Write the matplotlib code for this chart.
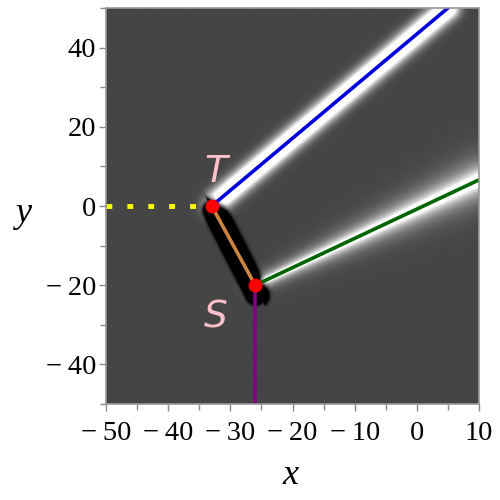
import numpy as np
import matplotlib
matplotlib.use("Agg")
import matplotlib.pyplot as plt
from matplotlib.ticker import FixedLocator, FuncFormatter

# Puntos clave (coordenadas de datos)
point_T = (-33.0, 0.0)
point_S = (-26.0, -20.0)
blue_end = (5.0, 50.0)
green_end = (10.0, 6.6)
purple_end = (-26.0, -50.0)
yellow_start = (-50.0, 0.0)

x_ticks = [-50, -40, -30, -20, -10, 0, 10]
y_ticks = [-40, -20, 0, 20, 40]
x_lim = (-50, 10)
y_lim = (-50, 50)

# Escala aproximada píxel/unidad para medir distancias en pantalla
_SX = 6.22
_SY = 3.925

plt.rcParams["font.family"] = ["Liberation Serif", "DejaVu Serif"]


def _seg_dist(px, py, a, b):
    """Distancia (en px de pantalla) a un segmento y posición a lo largo."""
    ax_, ay_ = a[0] * _SX, a[1] * _SY
    bx_, by_ = b[0] * _SX, b[1] * _SY
    dx, dy = bx_ - ax_, by_ - ay_
    L2 = dx * dx + dy * dy
    t = np.clip(((px - ax_) * dx + (py - ay_) * dy) / L2, 0, 1)
    cx, cy = ax_ + t * dx, ay_ + t * dy
    return np.hypot(px - cx, py - cy), t * np.sqrt(L2)


# ---------------------------------------------------------------- campo
xs = np.linspace(x_lim[0], x_lim[1], 600)
ys = np.linspace(y_lim[0], y_lim[1], 600)
X, Y = np.meshgrid(xs, ys)
PX, PY = X * _SX, Y * _SY

field = np.full_like(X, 0.27)

# halo blanco de la rama azul: meseta ancha
d_b, s_b = _seg_dist(PX, PY, point_T, blue_end)
field += 1.3 * np.exp(-(d_b / 10.5) ** 2) * np.clip(s_b / 4.0, 0.4, 1)

# halo de la rama verde: núcleo fino y cola que se ensancha
d_g, s_g = _seg_dist(PX, PY, point_S, green_end)
w_g = 4.0 + 0.028 * s_g
field += 1.2 * np.exp(-d_g / w_g)

# banda oscura a lo largo del tramo T-S
vx, vy = (point_S[0] - point_T[0]) * _SX, (point_S[1] - point_T[1]) * _SY
n = np.hypot(vx, vy)
nx, ny = -vy / n, vx / n
if nx < 0:
    nx, ny = -nx, -ny  # normal hacia la derecha
off = 0.5
a_off = (point_T[0] + nx * off / _SX, point_T[1] - 1.0 + ny * off / _SY)
b_off = (point_S[0] + nx * off / _SX, point_S[1] - 2.5 + ny * off / _SY)
d_k, s_k = _seg_dist(PX, PY, a_off, b_off)
# lado izquierdo nítido, lado derecho difuso
side = (PX - a_off[0] * _SX) * nx + (PY - a_off[1] * _SY) * ny
w_k = np.where(side > 0, 12.0, 9.0)
field -= 1.3 * np.exp(-(d_k / w_k) ** 4)

field = np.clip(field, 0, 1)

# ---------------------------------------------------------------- figura
fig = plt.figure(figsize=(5, 5), dpi=100)
ax = fig.add_axes([0.212, 0.192, 0.746, 0.792])

ax.imshow(field, origin="lower", extent=[*x_lim, *y_lim], cmap="gray",
          vmin=0, vmax=1, aspect="auto", interpolation="bilinear")

ax.plot([yellow_start[0], point_T[0]], [yellow_start[1], point_T[1]],
        color="#ffff00", lw=3.5, dashes=(1.2, 3.1), dash_capstyle="butt")
ax.plot([point_T[0], blue_end[0]], [point_T[1], blue_end[1]], color="#0000dd", lw=2.6)
ax.plot([point_S[0], green_end[0]], [point_S[1], green_end[1]], color="#006400", lw=2.6)
ax.plot([point_T[0], point_S[0]], [point_T[1], point_S[1]], color="#cd853f", lw=2.6)
ax.plot([point_S[0], purple_end[0]], [point_S[1], purple_end[1]], color="#800080", lw=2.6)
ax.plot([point_T[0], point_S[0]], [point_T[1], point_S[1]], "o", color="#ff0000",
        ms=10, mec="none")

ax.text(point_T[0] + 0.6, point_T[1] + 4, "T", color="#ffc0cb", fontsize=27,
        style="italic", ha="center", va="bottom", family="DejaVu Sans")
ax.text(point_S[0] - 6.3, point_S[1] - 3.5, "S", color="#ffc0cb", fontsize=27,
        style="italic", ha="center", va="top", family="DejaVu Sans")

ax.set_xlim(*x_lim)
ax.set_ylim(*y_lim)


def _fmt(v, _pos):
    v = int(round(v))
    return f"\u2212\u2009{abs(v)}" if v < 0 else f"{v}"


ax.xaxis.set_major_locator(FixedLocator(x_ticks))
ax.yaxis.set_major_locator(FixedLocator(y_ticks))
ax.xaxis.set_minor_locator(FixedLocator(np.arange(-45, 10, 10)))
ax.yaxis.set_minor_locator(FixedLocator(np.arange(-50, 51, 10)))
ax.xaxis.set_major_formatter(FuncFormatter(_fmt))
ax.yaxis.set_major_formatter(FuncFormatter(_fmt))
ax.tick_params(which="both", direction="out", color="#888888", labelsize=20.5,
               labelcolor="black")
ax.tick_params(which="major", length=5, width=1)
ax.tick_params(axis="x", which="major", pad=7)
ax.tick_params(axis="y", which="major", pad=2)
ax.tick_params(which="minor", length=4, width=1)

for sp in ax.spines.values():
    sp.set_color("#9a9a9a")
    sp.set_linewidth(1.2)

fig.text(0.58, 0.05, "x", style="italic", fontsize=26, ha="center", va="center")
fig.text(0.046, 0.574, "y", style="italic", fontsize=26, ha="center", va="center")

fig.savefig("out.png", dpi=100)
